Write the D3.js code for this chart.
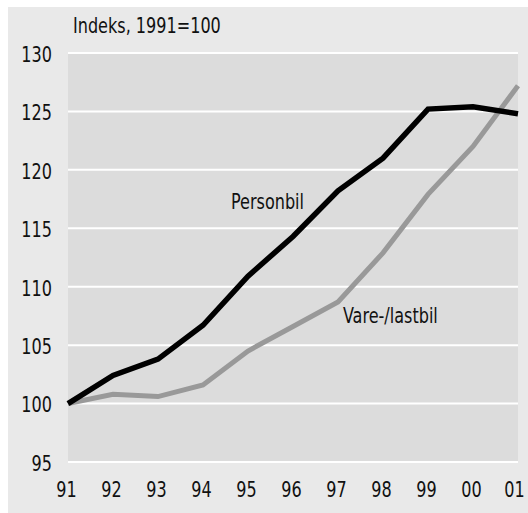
<!DOCTYPE html>
<html>
<head>
<meta charset="utf-8">
<script src="https://cdn.jsdelivr.net/npm/d3@7"></script>
<style>
  body { margin: 0; background: #fff; }
  svg text { font-family: "Liberation Sans Narrow", "DejaVu Sans Condensed", "Roboto Condensed", sans-serif; fill: #111; }
</style>
</head>
<body>
<div id="chart"></div>
<script>
var years = ["91", "92", "93", "94", "95", "96", "97", "98", "99", "00", "01"];
var personbil = [100, 102.4, 103.8, 106.7, 110.9, 114.3, 118.2, 121.0, 125.2, 125.4, 124.8];
var varebil = [100, 100.8, 100.6, 101.6, 104.5, 106.6, 108.7, 112.9, 117.9, 122.0, 127.2];
var yTicks = [95, 100, 105, 110, 115, 120, 125, 130];

var W = 528, H = 513;
var margin = {top: 53, right: 10, bottom: 51, left: 68},
  width = W - margin.left - margin.right,
  height = H - margin.top - margin.bottom;

var svg = d3.select("#chart")
.append("svg")
  .attr("width", W)
  .attr("height", H);

// outer panel
svg.append("rect")
  .attr("x", 8).attr("y", 7)
  .attr("width", W - 8).attr("height", H - 7)
  .style("fill", "#e9e9e9");

var g = svg.append("g")
  .attr("transform", "translate(" + margin.left + "," + margin.top + ")");

var x = d3.scalePoint()
  .domain(years)
  .range([0, width]);

var y = d3.scaleLinear()
  .domain([95, 130])
  .range([height, 0]);

// plot background
g.append("rect")
  .attr("width", width)
  .attr("height", height)
  .style("fill", "#dcdcdc");

// gridlines
g.selectAll(".grid")
  .data(yTicks).enter()
  .append("line")
  .attr("x1", 0).attr("x2", width)
  .attr("y1", function(d) { return y(d); })
  .attr("y2", function(d) { return y(d); })
  .style("stroke", "#fff")
  .style("stroke-width", 2);

// y labels
var yAxis = g.append("g")
  .call(d3.axisLeft(y).tickValues(yTicks).tickSize(0).tickPadding(16));
yAxis.select(".domain").remove();
yAxis.selectAll("text")
  .style("font-size", "21px")
  .attr("dy", "0.4em");

// x labels
var xAxis = g.append("g")
  .attr("transform", "translate(0," + height + ")")
  .call(d3.axisBottom(x).tickSize(0).tickPadding(24));
xAxis.select(".domain").remove();
xAxis.selectAll("text")
  .style("font-size", "21px")
  .attr("dx", function(d, i) { return i == years.length - 1 ? -4 : -2; })
  .attr("dy", "0.5em");

var line = d3.line()
  .x(function(d, i) { return x(years[i]); })
  .y(function(d) { return y(d); });

g.append("path")
  .datum(varebil)
  .attr("d", line)
  .style("fill", "none")
  .style("stroke", "#999999")
  .style("stroke-width", 5);

g.append("path")
  .datum(personbil)
  .attr("d", line)
  .style("fill", "none")
  .style("stroke", "#000")
  .style("stroke-width", 5.5);

// labels
svg.append("text")
  .attr("x", 73).attr("y", 33)
  .style("font-size", "21px")
  .text("Indeks, 1991=100");

svg.append("text")
  .attr("x", 231).attr("y", 209)
  .style("font-size", "21px")
  .text("Personbil");

svg.append("text")
  .attr("x", 343).attr("y", 323)
  .style("font-size", "21px")
  .text("Vare-/lastbil");

// the original font is narrower, so squeeze every text a bit
svg.selectAll("text").each(function() {
  var len = this.getComputedTextLength();
  d3.select(this)
    .attr("textLength", len * 0.85)
    .attr("lengthAdjust", "spacingAndGlyphs");
});
</script>
</body>
</html>
